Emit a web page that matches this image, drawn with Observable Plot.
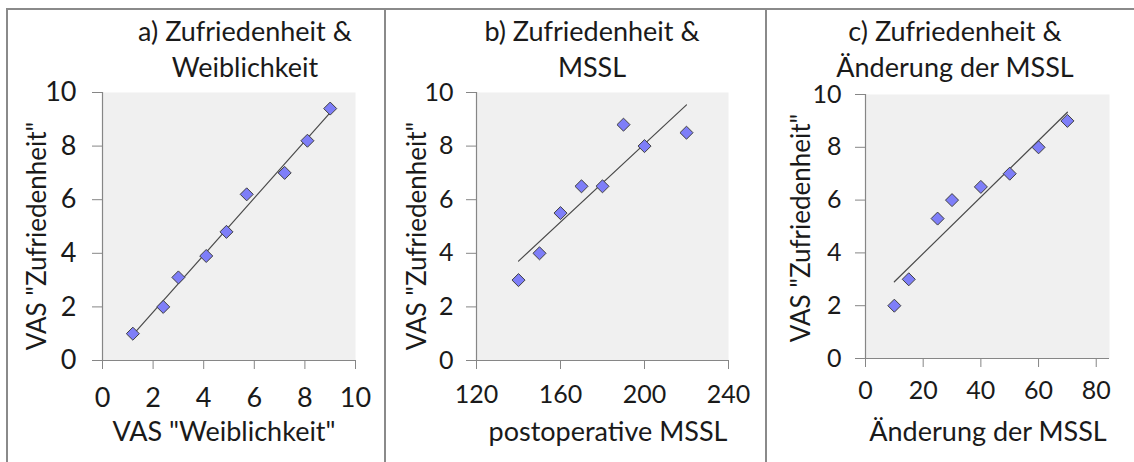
<!DOCTYPE html>
<html>
<head>
<meta charset="utf-8">
<script src="https://cdn.jsdelivr.net/npm/d3@7"></script>
<script src="https://cdn.jsdelivr.net/npm/@observablehq/plot@0.6"></script>
<style>
  body { margin: 0; background: #fff; }
  #wrap { position: relative; width: 1134px; height: 462px; overflow: hidden; background: #fff; font-family: Lato, sans-serif; color: #1a1a1a; }
  .panel { position: absolute; top: 0; }
  .line { position: absolute; background: #8a8a8a; }
  .title { position: absolute; width: 400px; text-align: center; font-size: 27px; line-height: 36px; white-space: nowrap; }
  .xlab { position: absolute; width: 400px; text-align: center; font-size: 27px; line-height: 30px; white-space: nowrap; }
  .ylab { position: absolute; font-size: 26px; line-height: 30px; white-space: nowrap; transform: translate(-50%, -50%) rotate(-90deg); }
</style>
</head>
<body>
<div id="wrap"></div>
<script>
// ---- data ----
const weiblichkeitA = [1.2, 2.4, 3.0, 4.1, 4.9, 5.7, 7.2, 8.1, 9.0];
const zufriedenheitA = [1.0, 2.0, 3.1, 3.9, 4.8, 6.2, 7.0, 8.2, 9.4];
const msslB = [140, 150, 160, 170, 180, 190, 200, 220];
const zufriedenheitB = [3.0, 4.0, 5.5, 6.5, 6.5, 8.8, 8.0, 8.5];
const aenderungC = [10, 15, 25, 30, 40, 50, 60, 70];
const zufriedenheitC = [2.0, 3.0, 5.3, 6.0, 6.5, 7.0, 8.0, 9.0];
const yTicks = [0, 2, 4, 6, 8, 10];
const xTicksA = [0, 2, 4, 6, 8, 10];
const xTicksB = [120, 160, 200, 240];
const xTicksC = [0, 20, 40, 60, 80];
const titles = [["a) Zufriedenheit &", "Weiblichkeit"], ["b) Zufriedenheit &", "MSSL"], ["c) Zufriedenheit &", "Änderung der MSSL"]];
const xLabels = ['VAS "Weiblichkeit"', "postoperative MSSL", "Änderung der MSSL"];
const yLabel = 'VAS "Zufriedenheit"';

const wrap = document.getElementById("wrap");

const diamond = {
  draw(ctx, size) {
    const h = Math.sqrt(size / 2);
    ctx.moveTo(0, -h); ctx.lineTo(h, 0); ctx.lineTo(0, h); ctx.lineTo(-h, 0); ctx.closePath();
  }
};

function panel(cfg) {
  const data = cfg.x.map((v, i) => ({x: v, y: cfg.y[i]}));
  const plot = Plot.plot({
    width: cfg.width, height: 462,
    marginLeft: cfg.ml, marginRight: cfg.mr, marginTop: cfg.mt, marginBottom: cfg.mb,
    style: {fontFamily: "Lato, sans-serif", fontSize: cfg.fs + "px", color: "#1a1a1a", background: "transparent", overflow: "visible"},
    x: {domain: cfg.xDomain, label: null},
    y: {domain: [0, 10], label: null},
    marks: [
      Plot.frame({fill: "#f0f0f0", stroke: "none"}),
      Plot.axisX({ticks: cfg.xTicks, tickSize: 9, tickPadding: cfg.padX, stroke: "#868686", fill: "#1a1a1a", label: null, tickFormat: d => String(d), fontSize: cfg.fs}),
      Plot.axisY({ticks: yTicks, tickSize: 10, tickPadding: cfg.padY, stroke: "#868686", fill: "#1a1a1a", label: null, tickFormat: d => String(d), fontSize: cfg.fs}),
      Plot.ruleY([0], {stroke: "#868686", strokeWidth: 1.2}),
      Plot.ruleX([cfg.xDomain[0]], {stroke: "#868686", strokeWidth: 1.2}),
      Plot.linearRegressionY(data, {x: "x", y: "y", stroke: "#4a4a4a", strokeWidth: 1.2, ci: 0}),
      Plot.dot(data, {x: "x", y: "y", symbol: diamond, r: 5.2, fill: "#7e7ef8", stroke: "#404040", strokeWidth: 1})
    ]
  });
  const div = document.createElement("div");
  div.className = "panel";
  div.style.left = cfg.left + "px";
  div.appendChild(plot);
  wrap.appendChild(div);
}

panel({x: weiblichkeitA, y: zufriedenheitA, xDomain: [0, 10], xTicks: xTicksA, left: 0, width: 385, ml: 102, mr: 30, mt: 92, mb: 102, fs: 27, padX: 18, padY: 16});
panel({x: msslB, y: zufriedenheitB, xDomain: [120, 240], xTicks: xTicksB, left: 387, width: 378, ml: 89, mr: 37, mt: 92, mb: 102, fs: 25, padX: 16, padY: 13});
panel({x: aenderungC, y: zufriedenheitC, xDomain: [0, 84.6], xTicks: xTicksC, left: 767, width: 367, ml: 98, mr: 25, mt: 94, mb: 104, fs: 25, padX: 14, padY: 14});

// frame lines
function line(l, t, w, h) { const d = document.createElement("div"); d.className = "line"; Object.assign(d.style, {left: l + "px", top: t + "px", width: w + "px", height: h + "px"}); wrap.appendChild(d); }
line(6, 8, 1128, 2);
line(6, 8, 2, 454);
line(384, 8, 2, 454);
line(765, 8, 2, 454);

// titles
const titleCenters = [245, 592, 955];
titles.forEach((t, i) => {
  const d = document.createElement("div");
  d.className = "title";
  d.style.left = (titleCenters[i] - 200) + "px";
  d.style.top = "13px";
  d.innerHTML = t.map(s => s.replace(/&/g, "&amp;")).join("<br>");
  wrap.appendChild(d);
});
const xlabCenters = [224, 608, 988];
xLabels.forEach((t, i) => {
  const d = document.createElement("div");
  d.className = "xlab";
  d.style.left = (xlabCenters[i] - 200) + "px";
  d.style.top = "416px";
  d.textContent = t;
  wrap.appendChild(d);
});
const ylabPos = [[36, 236], [416, 236], [800, 228]];
ylabPos.forEach(([cx, cy]) => {
  const d = document.createElement("div");
  d.className = "ylab";
  d.style.left = cx + "px";
  d.style.top = cy + "px";
  d.textContent = yLabel;
  wrap.appendChild(d);
});
</script>
</body>
</html>
